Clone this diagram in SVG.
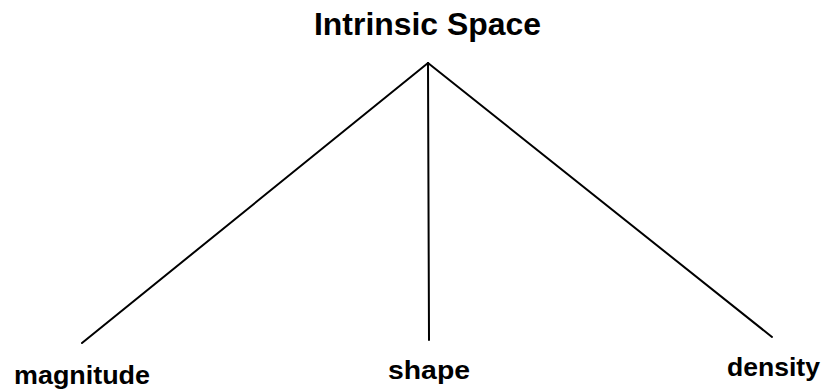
<svg xmlns="http://www.w3.org/2000/svg" width="822" height="389" viewBox="0 0 822 389">
<style>
.lbl{font-family:"Liberation Sans",Arial,sans-serif;font-weight:bold;fill:#000}
.edge{stroke:#000;stroke-width:2;fill:none;stroke-linecap:round}
</style>
<rect width="822" height="389" fill="#fff"/>
<g id="connectors">
<line class="edge" x1="428" y1="63" x2="82" y2="343"/>
<line class="edge" x1="428" y1="63" x2="429" y2="340"/>
<line class="edge" x1="428" y1="63" x2="772" y2="337"/>
</g>
<g id="node-intrinsic"><text class="lbl" x="314" y="35" font-size="31" textLength="227" lengthAdjust="spacingAndGlyphs">Intrinsic Space</text></g>
<g id="node-magnitude"><text class="lbl" x="14" y="384" font-size="25" textLength="136" lengthAdjust="spacingAndGlyphs">magnitude</text></g>
<g id="node-shape"><text class="lbl" x="388" y="379" font-size="25" textLength="82" lengthAdjust="spacingAndGlyphs">shape</text></g>
<g id="node-density"><text class="lbl" x="727" y="376" font-size="25" textLength="93" lengthAdjust="spacingAndGlyphs">density</text></g>
</svg>
